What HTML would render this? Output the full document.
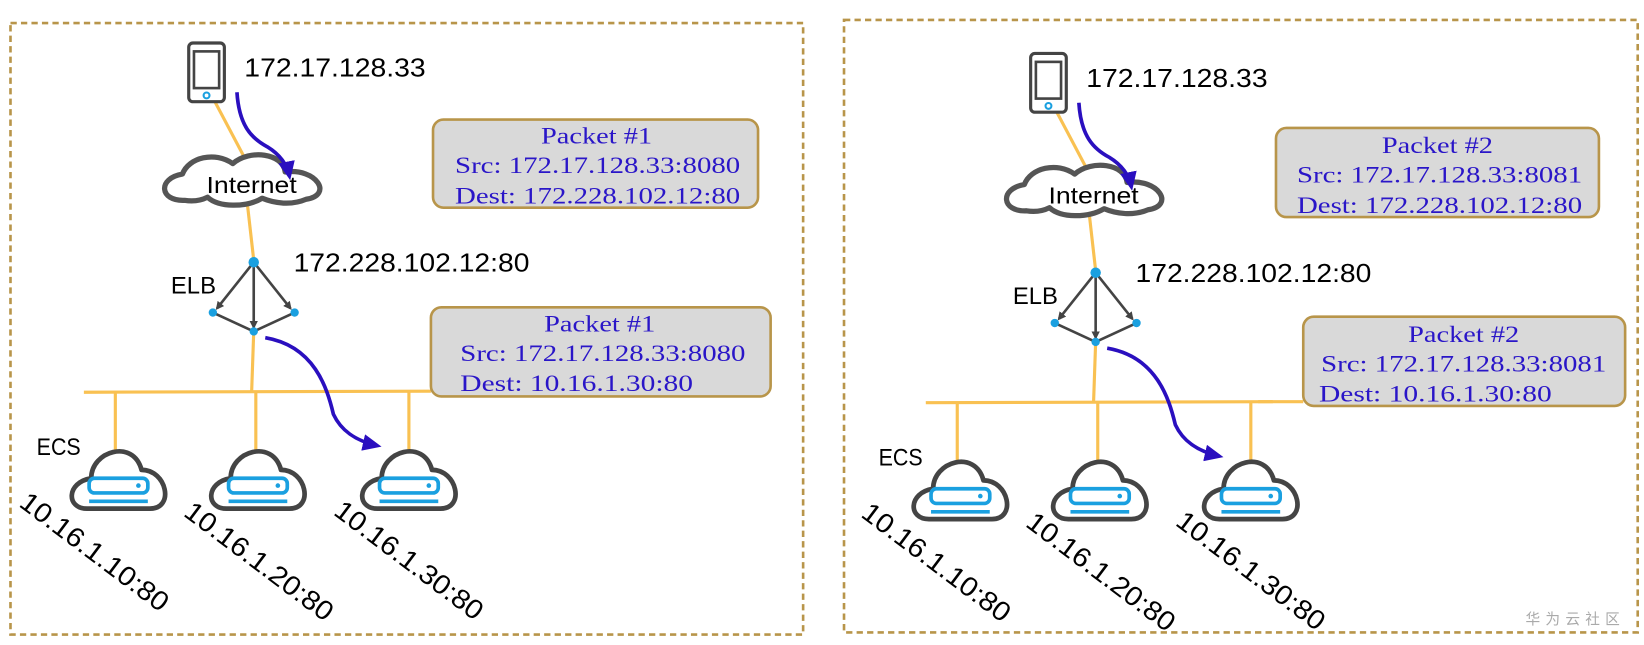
<!DOCTYPE html>
<html><head><meta charset="utf-8"><style>html,body{margin:0;padding:0;background:#fff;}svg{display:block}</style></head>
<body>
<svg width="1644" height="645" viewBox="0 0 1568 615" preserveAspectRatio="none" xmlns="http://www.w3.org/2000/svg">
<defs>
<marker id="ah" markerWidth="8" markerHeight="8" refX="6" refY="4" orient="auto" markerUnits="userSpaceOnUse"><path d="M0,0 L8,4 L0,8 Z" fill="#444"/></marker>
<marker id="bh" markerWidth="18" markerHeight="16" refX="14" refY="8" orient="auto" markerUnits="userSpaceOnUse"><path d="M0,0 L18,8 L0,16 Z" fill="#2a0fbf"/></marker>
<g id="ecs">
<path d="M-30,25 C-50,25 -50,0 -26,-4 C-26,-30 14,-42 22,-12 C46,-12 54,25 30,25 Z" fill="#fff" stroke="#444" stroke-width="4.5" stroke-linejoin="round"/>
<rect x="-28" y="-4" width="56" height="14" rx="5" fill="#fff" stroke="#1aa0e0" stroke-width="3.5"/>
<circle cx="19" cy="3" r="2.2" fill="#1aa0e0"/>
<line x1="-28" y1="18" x2="28" y2="18" stroke="#1aa0e0" stroke-width="3.5"/>
</g>
<g id="diag">
<g stroke="#f9c152" stroke-width="3" fill="none">
<line x1="205" y1="97" x2="232" y2="148"/>
<line x1="236" y1="195" x2="242" y2="248"/>
<line x1="242" y1="316" x2="240" y2="374"/>
<line x1="80" y1="374" x2="411" y2="373"/>
<line x1="110" y1="374" x2="110" y2="432"/>
<line x1="244" y1="374" x2="244" y2="432"/>
<line x1="390" y1="374" x2="390" y2="432"/>
</g>
<rect x="180" y="41" width="34" height="56" rx="4" fill="#fff" stroke="#444" stroke-width="3"/>
<rect x="185" y="49" width="24" height="35" fill="#fff" stroke="#444" stroke-width="2.5"/>
<circle cx="197" cy="91" r="2.8" fill="#fff" stroke="#1aa0e0" stroke-width="2"/>
<text x="233" y="73" font-family="Liberation Sans, sans-serif" font-size="25" textLength="173" lengthAdjust="spacingAndGlyphs">172.17.128.33</text>
<path d="M176,191 C152,192 150,170 174,166 C180,150 205,144 222,156 C238,142 270,146 272,164 C302,160 318,186 292,190 C278,196 262,194 250,189 C235,198 208,198 198,188 C190,192 182,192 176,191 Z" fill="#fff" stroke="#555" stroke-width="5" stroke-linejoin="round"/>
<text x="197" y="184" font-family="Liberation Sans, sans-serif" font-size="22" textLength="86" lengthAdjust="spacingAndGlyphs">Internet</text>
<path d="M226,88 C228,120 240,132 255,140 C268,148 274,158 276,168" fill="none" stroke="#2a0fbf" stroke-width="3.5" marker-end="url(#bh)"/>
<g stroke="#444" stroke-width="2.5" fill="none">
<line x1="242" y1="250" x2="207" y2="294" marker-end="url(#ah)"/>
<line x1="242" y1="250" x2="242" y2="312" marker-end="url(#ah)"/>
<line x1="242" y1="250" x2="277" y2="294" marker-end="url(#ah)"/>
<line x1="203" y1="298" x2="242" y2="316"/>
<line x1="281" y1="298" x2="242" y2="316"/>
</g>
<circle cx="242" cy="250" r="5" fill="#1aa0e0"/>
<circle cx="203" cy="298" r="4" fill="#1aa0e0"/>
<circle cx="281" cy="298" r="4" fill="#1aa0e0"/>
<circle cx="242" cy="316" r="4" fill="#1aa0e0"/>
<text x="163" y="280" font-family="Liberation Sans, sans-serif" font-size="23" textLength="43" lengthAdjust="spacingAndGlyphs">ELB</text>
<text x="280" y="259" font-family="Liberation Sans, sans-serif" font-size="25" textLength="225" lengthAdjust="spacingAndGlyphs">172.228.102.12:80</text>
<path d="M253,322 C300,330 312,370 318,395 C325,410 338,420 360,425" fill="none" stroke="#2a0fbf" stroke-width="3.5" marker-end="url(#bh)"/>
<use href="#ecs" x="113" y="460"/>
<use href="#ecs" x="246" y="460"/>
<use href="#ecs" x="390" y="460"/>
<text x="35" y="434" font-family="Liberation Sans, sans-serif" font-size="23" textLength="42" lengthAdjust="spacingAndGlyphs">ECS</text>
<g font-family="Liberation Sans, sans-serif" font-size="26">
<text transform="translate(17,482) rotate(37)" textLength="170" lengthAdjust="spacingAndGlyphs">10.16.1.10:80</text>
<text transform="translate(174,491) rotate(37)" textLength="170" lengthAdjust="spacingAndGlyphs">10.16.1.20:80</text>
<text transform="translate(317,490) rotate(37)" textLength="170" lengthAdjust="spacingAndGlyphs">10.16.1.30:80</text>
</g>
</g>
</defs>

<rect x="10" y="22" width="756" height="583" fill="none" stroke="#b8954a" stroke-width="2.5" stroke-dasharray="6,4"/>
<rect x="805" y="19" width="757" height="584" fill="none" stroke="#b8954a" stroke-width="2.5" stroke-dasharray="6,4"/>

<use href="#diag"/>
<use href="#diag" transform="translate(803,10)"/>
<line x1="1200" y1="383" x2="1243" y2="383" stroke="#f9c152" stroke-width="3"/>

<g font-family="Liberation Serif, 'Noto Serif CJK SC', serif" font-size="22" fill="#2a16c8">
<rect x="413" y="114" width="310" height="84" rx="10" fill="#d9d9d9" stroke="#b8954a" stroke-width="2.5"/>
<text x="516" y="137" textLength="106" lengthAdjust="spacingAndGlyphs">Packet #1</text>
<text x="434" y="165" textLength="272" lengthAdjust="spacingAndGlyphs">Src: 172.17.128.33:8080</text>
<text x="434" y="194" textLength="272" lengthAdjust="spacingAndGlyphs">Dest: 172.228.102.12:80</text>

<rect x="411" y="293" width="324" height="85" rx="10" fill="#d9d9d9" stroke="#b8954a" stroke-width="2.5"/>
<text x="519" y="316" textLength="106" lengthAdjust="spacingAndGlyphs">Packet #1</text>
<text x="439" y="344" textLength="272" lengthAdjust="spacingAndGlyphs">Src: 172.17.128.33:8080</text>
<text x="439" y="373" textLength="222" lengthAdjust="spacingAndGlyphs">Dest: 10.16.1.30:80</text>

<rect x="1217" y="122" width="308" height="85" rx="10" fill="#d9d9d9" stroke="#b8954a" stroke-width="2.5"/>
<text x="1318" y="146" textLength="106" lengthAdjust="spacingAndGlyphs">Packet #2</text>
<text x="1237" y="174" textLength="272" lengthAdjust="spacingAndGlyphs">Src: 172.17.128.33:8081</text>
<text x="1237" y="203" textLength="272" lengthAdjust="spacingAndGlyphs">Dest: 172.228.102.12:80</text>

<rect x="1243" y="302" width="307" height="85" rx="10" fill="#d9d9d9" stroke="#b8954a" stroke-width="2.5"/>
<text x="1343" y="326" textLength="106" lengthAdjust="spacingAndGlyphs">Packet #2</text>
<text x="1260" y="354" textLength="272" lengthAdjust="spacingAndGlyphs">Src: 172.17.128.33:8081</text>
<text x="1258" y="383" textLength="222" lengthAdjust="spacingAndGlyphs">Dest: 10.16.1.30:80</text>
</g>
<text x="1455" y="595" font-family="'Noto Sans CJK SC', sans-serif" font-size="14" fill="#aaa" letter-spacing="5">华为云社区</text>
</svg>
</body></html>
